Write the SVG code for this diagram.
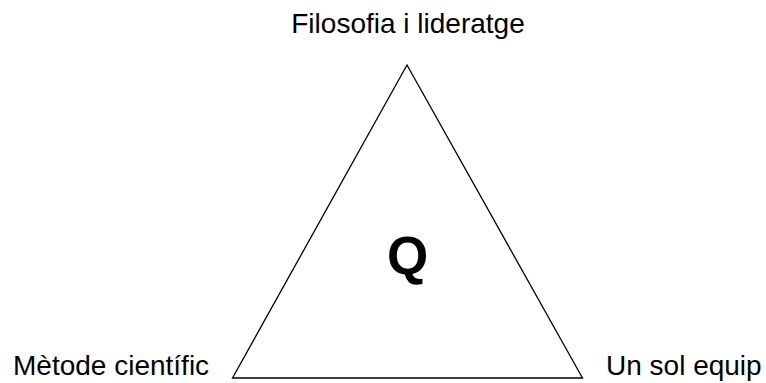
<svg xmlns="http://www.w3.org/2000/svg" width="766" height="383" viewBox="0 0 766 383">
<style>
.t{font-family:"Liberation Sans",Arial,sans-serif;font-size:28px;fill:#000}
.q{font-family:"Liberation Sans",Arial,sans-serif;font-size:53px;font-weight:bold;fill:#000}
.tri{fill:none;stroke:#000;stroke-width:1.3}
</style>
<rect width="766" height="383" fill="#fff"/>
<g id="triangle">
<polygon class="tri" points="407,65 232.5,378 582.5,378"/>
<text class="q" x="407.5" y="274" text-anchor="middle">Q</text>
</g>
<g id="top"><text class="t" x="408" y="33" text-anchor="middle">Filosofia i lideratge</text></g>
<g id="left"><text class="t" x="13" y="375">Mètode científic</text></g>
<g id="right"><text class="t" x="606" y="375">Un sol equip</text></g>
<g id="connectors"></g>
</svg>
